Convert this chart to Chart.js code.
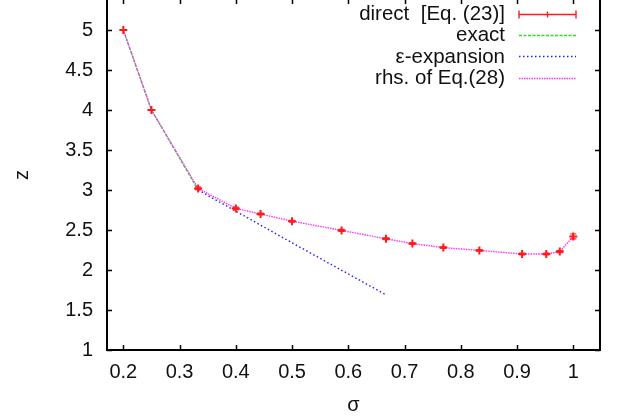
<!DOCTYPE html>
<html><head><meta charset="utf-8">
<script src="https://cdn.jsdelivr.net/npm/chart.js@4/dist/chart.umd.min.js"></script>
<style>html,body{margin:0;padding:0;background:#fff;overflow:hidden}canvas{display:block}</style>
</head><body>
<canvas id="c" width="626" height="418"></canvas>
<script>
// ---- data ----
const sigmaDirect = [0.2, 0.25, 0.333, 0.4, 0.444, 0.5, 0.588, 0.667, 0.714, 0.769, 0.833, 0.909, 0.952, 0.976, 1.0];
const zDirect     = [5.0, 4.0, 3.02, 2.77, 2.70, 2.61, 2.495, 2.39, 2.33, 2.28, 2.245, 2.20, 2.20, 2.23, 2.42];
const zDirectErr  = [0.005, 0.005, 0.015, 0.015, 0.012, 0.012, 0.012, 0.012, 0.01, 0.01, 0.01, 0.01, 0.012, 0.012, 0.03];
const sigmaExact = [0.2, 0.25, 0.333];
const zExact     = [5.0, 4.0, 3.0];
const sigmaEps = [0.333, 0.4, 0.5, 0.667];
const zEps     = [3.0, 2.735, 2.34, 1.69];
const sigmaRhs = [0.2, 0.25, 0.333, 0.4, 0.444, 0.5, 0.588, 0.667, 0.714, 0.769, 0.833, 0.909, 0.952, 0.976, 1.0];
const zRhs     = [5.0, 4.0, 3.02, 2.77, 2.70, 2.61, 2.495, 2.39, 2.33, 2.28, 2.245, 2.20, 2.20, 2.23, 2.42];
const xTickValues = [0.2, 0.3, 0.4, 0.5, 0.6, 0.7, 0.8, 0.9, 1];
const yTickValues = [1, 1.5, 2, 2.5, 3, 3.5, 4, 4.5, 5];
const legendLabels = ['direct  [Eq. (23)]', 'exact', '\u03b5-expansion', 'rhs. of Eq.(28)'];
const xTitle = '\u03c3';
const yTitle = 'z';

const FONT = "'Liberation Sans', Arial, sans-serif";
const RED = '#ff1a1a', GREEN = '#22e022', BLUE = '#2222ff', MAGENTA = '#ff33ff';
const pts = (xs, ys) => xs.map((x, i) => ({x, y: ys[i]}));

const framePlugin = {
  id: 'frame',
  afterDatasetsDraw(chart) {
    const ctx = chart.ctx, xs = chart.scales.x, ys = chart.scales.y;
    ctx.save();
    ctx.strokeStyle = RED;
    ctx.lineWidth = 1.2;
    sigmaDirect.forEach((s, i) => {
      const px = xs.getPixelForValue(s);
      const p0 = ys.getPixelForValue(zDirect[i] - zDirectErr[i]);
      const p1 = ys.getPixelForValue(zDirect[i] + zDirectErr[i]);
      ctx.beginPath();
      ctx.moveTo(px, p0); ctx.lineTo(px, p1);
      ctx.moveTo(px - 3, p0); ctx.lineTo(px + 3, p0);
      ctx.moveTo(px - 3, p1); ctx.lineTo(px + 3, p1);
      ctx.stroke();
    });
    ctx.restore();
  },
  afterDraw(chart) {
    const ctx = chart.ctx, xs = chart.scales.x, ys = chart.scales.y;
    const a = chart.chartArea;
    ctx.save();
    ctx.strokeStyle = '#000';
    ctx.lineWidth = 2;
    ctx.beginPath();
    ctx.moveTo(a.left, a.top - 2); ctx.lineTo(a.left, a.bottom);
    ctx.lineTo(a.right, a.bottom); ctx.lineTo(a.right, a.top - 2);
    ctx.stroke();
    ctx.lineWidth = 1.5;
    ctx.beginPath();
    xTickValues.forEach(v => {
      const px = Math.round(xs.getPixelForValue(v)) + 0.5;
      ctx.moveTo(px, a.bottom); ctx.lineTo(px, a.bottom - 5);
      ctx.moveTo(px, a.top); ctx.lineTo(px, a.top + 4);
    });
    yTickValues.forEach(v => {
      const py = Math.round(ys.getPixelForValue(v)) + 0.5;
      ctx.moveTo(a.left, py); ctx.lineTo(a.left + 5, py);
      ctx.moveTo(a.right, py); ctx.lineTo(a.right - 5, py);
    });
    ctx.stroke();
    // legend
    const lx = 505, sx0 = 519, sx1 = 576;
    const ly = [13.5, 34.5, 56, 77.5];
    const styles = [
      {c: RED, d: []},
      {c: GREEN, d: [3, 1.5]},
      {c: BLUE, d: [1.5, 2.5]},
      {c: MAGENTA, d: [1.5, 1]}
    ];
    ctx.font = '20.5px ' + FONT;
    ctx.fillStyle = '#111';
    ctx.textAlign = 'right';
    ctx.textBaseline = 'middle';
    legendLabels.forEach((t, i) => {
      ctx.fillText(t, lx, ly[i] + 1);
      const y = Math.round(ly[i]) + 0.5;
      ctx.strokeStyle = styles[i].c;
      ctx.lineWidth = 1.4;
      ctx.setLineDash(styles[i].d);
      ctx.beginPath();
      ctx.moveTo(sx0, y); ctx.lineTo(sx1, y);
      ctx.stroke();
      ctx.setLineDash([]);
      if (i === 0) {
        ctx.beginPath();
        ctx.moveTo(sx0, y - 4); ctx.lineTo(sx0, y + 4);
        ctx.moveTo(sx1, y - 4); ctx.lineTo(sx1, y + 4);
        const cx = (sx0 + sx1) / 2;
        ctx.moveTo(cx, y - 3); ctx.lineTo(cx, y + 3);
        ctx.stroke();
      }
    });
    ctx.restore();
  }
};

new Chart(document.getElementById('c'), {
  type: 'scatter',
  data: {
    datasets: [
      {label: legendLabels[0], data: pts(sigmaDirect, zDirect), showLine: false,
       pointStyle: 'cross', pointRadius: 4, borderColor: RED, backgroundColor: RED,
       pointBorderWidth: 2, order: 0},
      {label: legendLabels[1], data: pts(sigmaExact, zExact), showLine: true, pointRadius: 0,
       borderColor: GREEN, borderWidth: 1.4, borderDash: [3, 1.5], order: 3},
      {label: legendLabels[2], data: pts(sigmaEps, zEps), showLine: true, pointRadius: 0,
       borderColor: BLUE, borderWidth: 1.4, borderDash: [1.5, 2.5], order: 2},
      {label: legendLabels[3], data: pts(sigmaRhs, zRhs), showLine: true, pointRadius: 0,
       borderColor: MAGENTA, borderWidth: 1.4, borderDash: [1.5, 1], order: 1}
    ]
  },
  options: {
    responsive: false,
    animation: false,
    devicePixelRatio: 1,
    layout: {autoPadding: false, padding: {left: 0, right: 26, top: 0, bottom: 0}},
    plugins: {legend: {display: false}, tooltip: {enabled: false}},
    scales: {
      x: {
        type: 'linear', min: 0.171, max: 1.0475,
        grid: {display: false, drawTicks: false}, border: {display: false},
        afterBuildTicks: s => { s.ticks = xTickValues.map(v => ({value: v})); },
        afterFit: s => { s.height = 68; s.paddingLeft = 0; s.paddingRight = 0; },
        ticks: {font: {family: FONT, size: 20}, color: '#111', padding: 10, maxRotation: 0,
                callback: v => String(v)},
        title: {display: true, text: xTitle, font: {family: FONT, size: 20}, color: '#111',
                padding: {top: 0, bottom: 1}}
      },
      y: {
        type: 'linear', min: 1, max: 5.375,
        grid: {display: false, drawTicks: false}, border: {display: false},
        afterBuildTicks: s => { s.ticks = yTickValues.map(v => ({value: v})); },
        afterFit: s => { s.width = 107; s.paddingTop = 0; s.paddingBottom = 0; },
        ticks: {font: {family: FONT, size: 20}, color: '#111', padding: 14,
                callback: v => String(v)},
        title: {display: true, text: yTitle, font: {family: FONT, size: 20}, color: '#111',
                padding: {top: 10, bottom: 0}}
      }
    }
  },
  plugins: [framePlugin]
});
</script>
</body></html>
